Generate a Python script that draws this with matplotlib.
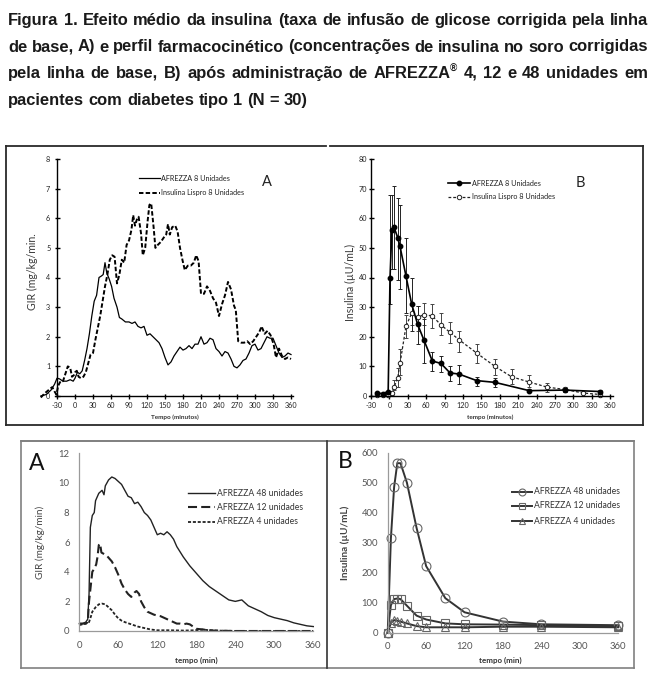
import matplotlib
matplotlib.use('Agg')
import matplotlib.pyplot as plt
from matplotlib.lines import Line2D
from matplotlib.font_manager import FontProperties
import numpy as np

plt.rcParams['lines.scale_dashes'] = False

# ---------------- data ----------------
# Top-left (A): GIR, 8 units
gir8_afz_t = [-57, -48, -40, -34, -30, -26, -20, -14, -8, -3,
              0, 4, 8, 12, 16, 20, 24, 28, 32, 36,
              40, 44, 47, 50, 53, 57, 61, 65, 70, 74,
              78, 84, 90, 95, 100, 105, 110, 115, 120, 125,
              130, 135, 140, 145, 150, 155, 160, 165, 170, 175,
              180, 185, 190, 195, 200, 205, 210, 215, 220, 225,
              230, 235, 240, 245, 250, 255, 260, 265, 270, 275,
              280, 285, 290, 295, 300, 305, 310, 315, 320, 325,
              330, 335, 340, 345, 350, 355, 360]
gir8_afz_v = [0.0, 0.05, 0.2, 0.4, 0.6, 0.58, 0.5, 0.5, 0.55, 0.5,
              0.6, 0.8, 0.75, 0.85, 1.2, 1.6, 2.1, 2.7, 3.2, 3.4,
              4.0, 4.05, 4.1, 4.5, 4.15, 3.95, 3.7, 3.3, 3.0, 2.65,
              2.6, 2.5, 2.5, 2.45, 2.5, 2.35, 2.3, 2.35, 2.05, 2.1,
              2.0, 1.9, 1.8, 1.6, 1.3, 1.05, 1.15, 1.35, 1.5, 1.65,
              1.55, 1.6, 1.7, 1.6, 1.75, 1.75, 2.0, 1.75, 1.8, 1.95,
              1.9, 1.6, 1.5, 1.35, 1.5, 1.45, 1.25, 1.0, 0.95, 1.05,
              1.2, 1.25, 1.45, 1.7, 1.75, 1.55, 1.6, 1.8, 2.0, 1.95,
              1.95, 1.7, 1.45, 1.3, 1.35, 1.45, 1.4]
gir8_lis_t = [-57, -50, -44, -38, -34, -31, -28, -24, -20, -16,
              -12, -8, -5, -2, 0, 3, 6, 10, 14, 18,
              22, 26, 30, 34, 38, 42, 46, 50, 54, 58,
              62, 66, 70, 74, 78, 82, 86, 90, 94, 97,
              100, 103, 106, 110, 113, 117, 121, 124, 127, 131,
              134, 138, 143, 148, 152, 155, 158, 162, 167, 171,
              175, 179, 183, 188, 193, 198, 202, 206, 210, 215,
              220, 225, 230, 235, 240, 245, 250, 255, 260, 265,
              268, 272, 277, 282, 287, 292, 297, 302, 307, 311,
              316, 321, 326, 331, 335, 340, 345, 350, 355, 360]
gir8_lis_v = [-0.05, 0.1, 0.2, 0.3, 0.15, 0.05, 0.35, 0.5, 0.5, 0.75,
              1.0, 0.95, 0.65, 0.7, 0.8, 0.85, 0.65, 0.6, 0.65, 0.8,
              1.1, 1.4, 1.45, 1.9, 2.3, 2.7, 3.2, 3.7, 4.1, 4.6,
              4.75, 4.7, 3.8, 4.1, 4.6, 4.5, 5.1, 5.25, 5.6, 6.1,
              5.75, 5.95, 6.05, 5.5, 4.75, 5.0, 5.9, 6.45, 6.5, 5.7,
              5.0, 5.1, 5.2, 5.35, 5.45, 5.8, 5.45, 5.7, 5.75, 5.55,
              5.0, 4.6, 4.25, 4.4, 4.4, 4.5, 4.75, 4.55, 3.45, 3.45,
              3.7, 3.55, 3.3, 3.15, 2.7, 3.1, 3.4, 3.85, 3.6, 3.05,
              2.9, 1.85, 1.8, 1.8, 1.85, 1.75, 1.85, 2.0, 2.15, 2.35,
              2.1, 2.2, 2.05, 1.75, 1.3, 1.6, 1.35, 1.25, 1.3, 1.25]

# Top-right (B): insulin, 8 units (times)
ins8_afz_t = [-21, -11, -2, 1, 4, 7.5, 13.5, 17.3, 27, 36.3, 46, 56.4, 70, 84,
              98.7, 113.4, 142.2, 172, 228, 286, 344]
ins8_afz_v = [1.0, 0.8, 1.5, 40, 56, 57, 53.5, 50.5, 40.5, 31, 24.2, 18.8, 11.8, 11,
              7.8, 7.4, 5.2, 4.6, 1.8, 2.0, 1.5]
ins8_afz_hi = [1.0, 0.8, 1.5, 68, 68, 71, 67, 64.5, 53.5, 40, 30.5, 26, 15, 13.5,
               10, 10.5, 6.5, 6.0, 2.5, 2.5, 2.0]
ins8_afz_lo = [1.0, 0.8, 1.5, 31, 43, 43, 39, 36, 28, 22, 17.5, 11, 8.5, 8,
               5, 4, 3.5, 3, 1.2, 1.5, 1.0]
ins8_lis_t = [-21, -11, -2, 3.7, 7.5, 13.5, 17.3, 27, 36.3, 46, 56.4, 70, 84, 98.7,
              113.4, 142.2, 172, 199, 228, 257, 286, 316, 344]
ins8_lis_v = [0.3, 0.3, 0.3, 1.0, 3.0, 6.0, 11.0, 23.5, 28, 26.5, 27.5, 27, 24, 21.5,
              19, 14.5, 10, 6.5, 4.7, 3.0, 2.2, 1.0, 0.5]
ins8_lis_hi = [0.3, 0.3, 0.3, 1.5, 5.5, 9.5, 16, 27.5, 31, 30.5, 31.5, 31, 28, 25,
               22, 17.5, 12.5, 9, 7, 4.5, 3, 1.0, 0.5]
ins8_lis_lo = [0.3, 0.3, 0.3, 0.5, 2, 3, 7, 19.5, 24, 22, 24, 23, 20.5, 18,
               15, 11, 7, 4, 3, 1.5, 1.5, 1.0, 0.5]

# Bottom-left (A): GIR, 48 / 12 / 4 units
gir48_t = [0, 5, 10, 13, 15, 17, 20, 23, 25, 30, 35, 38, 40, 45, 50, 55, 60, 65, 70, 75,
           80, 85, 90, 95, 100, 105, 110, 115, 120, 125, 130, 135, 140, 145, 150, 160, 170,
           180, 190, 200, 210, 220, 230, 240, 245, 250, 255, 260, 270, 280, 290, 300, 310,
           320, 330, 340, 350, 360]
gir48_v = [0.5, 0.5, 0.6, 0.8, 2.5, 7.0, 7.8, 8.0, 8.8, 9.3, 9.5, 9.2, 9.8, 10.2, 10.4, 10.3,
           10.1, 9.9, 9.5, 9.1, 9.0, 8.6, 8.7, 8.4, 8.0, 7.8, 7.5, 7.0, 6.5, 6.6, 6.5, 6.7,
           6.5, 6.2, 5.7, 5.0, 4.4, 3.9, 3.4, 3.0, 2.7, 2.4, 2.1, 2.0, 2.05, 2.1, 1.9, 1.7,
           1.5, 1.3, 1.05, 0.9, 0.8, 0.7, 0.55, 0.45, 0.35, 0.3]
gir12_t = [0, 10, 13, 15, 18, 20, 23, 26, 28, 30, 32, 34, 38, 42, 46, 50, 55, 60, 65, 70,
           75, 80, 85, 88, 92, 95, 100, 105, 110, 115, 120, 125, 130, 135, 140, 145, 150,
           155, 160, 165, 170, 175, 180, 190, 200, 210, 240, 270, 300, 360]
gir12_v = [0.5, 0.5, 0.6, 2.0, 3.2, 4.0, 4.2, 4.5, 5.0, 5.8, 5.9, 5.3, 5.2, 5.1, 4.9, 4.7,
           4.3, 3.8, 3.2, 2.8, 2.5, 2.3, 2.6, 2.7, 2.5, 2.0, 1.6, 1.3, 1.2, 1.1, 1.05, 1.0,
           0.9, 0.8, 0.7, 0.6, 0.5, 0.5, 0.45, 0.5, 0.45, 0.3, 0.15, 0.1, 0.05, 0.02, 0.0,
           0.0, 0.0, 0.0]
gir4_t = [0, 10, 15, 18, 20, 25, 30, 35, 40, 45, 50, 55, 60, 65, 70, 80, 90, 100, 110, 120,
          140, 160, 180, 190, 200, 220, 250, 300, 360]
gir4_v = [0.4, 0.5, 0.6, 1.0, 1.3, 1.6, 1.8, 1.85, 1.8, 1.6, 1.4, 1.1, 0.85, 0.7, 0.6, 0.45,
          0.3, 0.2, 0.1, 0.05, 0.05, 0.03, 0.05, 0.1, 0.05, 0.02, 0.0, 0.0, 0.0]

# Bottom-right (B): insulin, 48 / 12 / 4 units
ins_t = [0, 5, 10, 15, 20, 30, 45, 60, 90, 120, 180, 240, 360]
ins48_v = [0, 315, 485, 565, 565, 500, 350, 222, 115, 68, 37, 28, 25]
ins12_v = [0, 92, 112, 114, 112, 90, 57, 44, 31, 28, 27, 25, 21]
ins4_v = [0, 33, 42, 40, 37, 31, 22, 18, 18, 18, 20, 20, 18]

top_xticks = list(range(-30, 361, 30))
bot_xticks = list(range(0, 361, 60))

title_lines = [
    "Figura 1. Efeito médio da insulina (taxa de infusão de glicose corrigida pela linha",
    "de base, A) e perfil farmacocinético (concentrações de insulina no soro corrigidas",
    "pela linha de base, B) após administração de AFREZZA® 4, 12 e 48 unidades em",
    "pacientes com diabetes tipo 1 (N = 30)",
]

# ---------------- figure ----------------
W, H = 655, 689
fig = plt.figure(figsize=(W / 100, H / 100), dpi=100)
renderer = fig.canvas.get_renderer()
CF = 'Lato'


def ax_px(l, t, r, b):
    return fig.add_axes([l / W, 1 - b / H, (r - l) / W, (b - t) / H])


def ftext(x, y, s, **kw):
    return fig.text(x / W, 1 - y / H, s, **kw)


def fline(xs, ys, **kw):
    fig.add_artist(Line2D([x / W for x in xs], [1 - y / H for y in ys],
                          transform=fig.transFigure, **kw))


# ---------- title (justified) ----------
tfam = 'Liberation Sans'


def tfp(size):
    return FontProperties(family=tfam, weight='bold', size=size)


def tw(s, size):
    w, h, d = renderer.get_text_width_height_descent(s, tfp(size), ismath=False)
    return w


def word_w(word, size):
    if '®' in word:
        a, b = word.split('®')
        return tw(a, size) + tw('®', size * 0.6) + (tw(b, size) if b else 0)
    return tw(word, size)


base = 10.0
nat0 = sum(word_w(w, base) for w in title_lines[0].split()) + \
    (len(title_lines[0].split()) - 1) * (tw('a a', base) - tw('aa', base))
tsize = base * 638.0 / nat0
x0, x1 = 8, 648
baselines = [25, 51.5, 78, 105]
spw = tw('a a', tsize) - tw('aa', tsize)
for i, line in enumerate(title_lines):
    words = line.split()
    widths = [word_w(w, tsize) for w in words]
    if i < 3:
        gap = (x1 - x0 - sum(widths)) / (len(words) - 1)
    else:
        gap = spw
    x = x0
    for w, wd in zip(words, widths):
        if '®' in w:
            a, b = w.split('®')
            ftext(x, baselines[i], a, fontproperties=tfp(tsize),
                  va='baseline', ha='left', color='#1a1a1a')
            xa = x + tw(a, tsize)
            ftext(xa, baselines[i] - tsize * 0.55, '®', fontproperties=tfp(tsize * 0.6),
                  va='baseline', ha='left', color='#1a1a1a')
        else:
            ftext(x, baselines[i], w, fontproperties=tfp(tsize),
                  va='baseline', ha='left', color='#1a1a1a')
        x += wd + gap

# ---------- frames ----------
fc_top = '#2a2a2a'
fline([6, 326], [146, 146], color=fc_top, lw=1.3)
fline([330, 643], [146, 146], color=fc_top, lw=1.3)
fline([6, 6], [146, 424.5], color=fc_top, lw=1.3)
fline([643, 643], [146, 424.5], color=fc_top, lw=1.3)
fline([6, 643], [424.5, 424.5], color=fc_top, lw=1.3)
fc_bot = '#808080'
fline([21, 634], [441, 441], color='#6a6a6a', lw=1.2)
fline([21, 634], [668, 668], color=fc_bot, lw=1.2)
fline([21, 21], [441, 668], color=fc_bot, lw=1.2)
fline([634, 634], [441, 668], color=fc_bot, lw=1.2)
fline([327, 327], [441, 668], color='#333333', lw=1.2)


def style_top(ax, ymax, ystep, ypad):
    for s in ['top', 'right']:
        ax.spines[s].set_visible(False)
    ax.spines['left'].set_position(('data', -30))
    ax.spines['bottom'].set_position(('data', 0))
    ax.spines['left'].set_bounds(0, ymax)
    ax.spines['bottom'].set_bounds(-34, 364)
    for s in ['left', 'bottom']:
        ax.spines[s].set_linewidth(1.0)
        ax.spines[s].set_color('black')
    ax.set_xticks(top_xticks)
    ax.set_xticklabels([str(v) for v in top_xticks])
    yt = np.arange(0, ymax + 0.1, ystep)
    ax.set_yticks(yt)
    ax.set_yticklabels([str(int(v)) for v in yt])
    ax.tick_params(axis='both', direction='inout', length=3.6, width=1.0,
                   labelsize=5.2, colors='black', labelcolor='#222222')
    ax.tick_params(axis='x', pad=2.5)
    ax.tick_params(axis='y', pad=ypad)
    for lab in ax.get_xticklabels() + ax.get_yticklabels():
        lab.set_family(CF)
    ax.patch.set_alpha(0)


# ---------- top-left ----------
axA = ax_px(30, 150, 310, 400)
axA.set_xlim(-30 - 27 / 0.6, 360 + 19 / 0.6)
axA.set_ylim(-4 / 29.625, 8 + 9 / 29.625)
axA.plot(gir8_afz_t, gir8_afz_v, color='black', lw=0.9, clip_on=False)
axA.plot(gir8_lis_t, gir8_lis_v, color='black', lw=1.4, dashes=(3.2, 1.6), clip_on=False)
style_top(axA, 8, 1, 3)
ftext(32, 272, 'GIR (mg/kg/min.', rotation=90, ha='center', va='center',
      fontsize=7.6, family=CF, color='#3a3a3a')
ftext(175, 417, 'Tempo (minutos)', ha='center', va='center', fontsize=4.6,
      family=CF, color='#333333', weight='bold')
ftext(267, 182, 'A', ha='center', va='center', fontsize=10.5, family=CF, color='#222222')
fline([139, 160], [178, 178], color='black', lw=0.9)
ftext(161, 178, 'AFREZZA 8 Unidades', ha='left', va='center', fontsize=5.2,
      family=CF, color='#222222')
fline([139, 160], [193, 193], color='black', lw=1.4, dashes=(3.2, 1.6))
ftext(161, 193, 'Insulina Lispro 8 Unidades', ha='left', va='center', fontsize=5.2,
      family=CF, color='#222222')

# ---------- top-right ----------
axB = ax_px(340, 150, 630, 400)
ppm = (610.3 - 371) / 390.0
axB.set_xlim(-30 - 31 / ppm, 360 + 19.7 / ppm)
axB.set_ylim(-4 / 2.9625, 80 + 9 / 2.9625)
a_v = np.array(ins8_afz_v)
l_v = np.array(ins8_lis_v)
axB.errorbar(ins8_lis_t, l_v, yerr=[l_v - np.array(ins8_lis_lo), np.array(ins8_lis_hi) - l_v],
             fmt='none', ecolor='#444444', elinewidth=0.7, capsize=1.6, capthick=0.7,
             clip_on=False)
axB.errorbar(ins8_afz_t, a_v, yerr=[a_v - np.array(ins8_afz_lo), np.array(ins8_afz_hi) - a_v],
             fmt='none', ecolor='#222222', elinewidth=0.7, capsize=1.6, capthick=0.7,
             clip_on=False)
axB.plot(ins8_lis_t, ins8_lis_v, color='#222222', lw=0.9, dashes=(2.0, 1.4),
         marker='o', ms=3.2, mfc='white', mec='#222222', mew=0.7, clip_on=False)
axB.plot(ins8_afz_t, ins8_afz_v, color='black', lw=1.2, marker='o', ms=3.2,
         mfc='black', mec='black', clip_on=False)
style_top(axB, 80, 10, 1.2)
ftext(350, 282, 'Insulina (µU/mL)', rotation=90, ha='center', va='center',
      fontsize=7.6, family=CF, color='#3a3a3a')
ftext(490, 417, 'tempo (minutos)', ha='center', va='center', fontsize=4.6,
      family=CF, color='#333333', weight='bold')
ftext(580, 183, 'B', ha='center', va='center', fontsize=10.5, family=CF, color='#222222')
fline([448, 470], [183, 183], color='black', lw=1.2)
fig.add_artist(Line2D([459 / W], [1 - 183 / H], transform=fig.transFigure, marker='o',
                      ms=3.2, mfc='black', mec='black', lw=0))
ftext(472, 183, 'AFREZZA 8 Unidades', ha='left', va='center', fontsize=5.2,
      family=CF, color='#222222')
fline([448, 470], [197, 197], color='#222222', lw=0.9, dashes=(2.0, 1.4))
fig.add_artist(Line2D([459 / W], [1 - 197 / H], transform=fig.transFigure, marker='o',
                      ms=3.2, mfc='white', mec='#222222', mew=0.7, lw=0))
ftext(472, 197, 'Insulina Lispro 8 Unidades', ha='left', va='center', fontsize=5.2,
      family=CF, color='#222222')


def style_bot(ax, yticks):
    for s in ['top', 'right']:
        ax.spines[s].set_visible(False)
    for s in ['left', 'bottom']:
        ax.spines[s].set_color('#9a9a9a')
        ax.spines[s].set_linewidth(0.9)
    ax.set_xticks(bot_xticks)
    ax.set_xticklabels([str(v) for v in bot_xticks])
    ax.set_yticks(yticks)
    ax.set_yticklabels([str(v) for v in yticks])
    ax.tick_params(axis='both', length=0, labelsize=6.8, labelcolor='#555555')
    ax.tick_params(axis='x', pad=7)
    ax.tick_params(axis='y', pad=7)
    for lab in ax.get_xticklabels() + ax.get_yticklabels():
        lab.set_family(CF)
    ax.patch.set_alpha(0)


# ---------- bottom-left ----------
axC = ax_px(79.3, 453.3, 313.3, 631)
axC.set_xlim(0, 360)
axC.set_ylim(0, 12)
axC.plot(gir48_t, gir48_v, color='#222222', lw=1.0, clip_on=False)
axC.plot(gir12_t, gir12_v, color='#222222', lw=1.5, dashes=(6.5, 3.0), clip_on=False)
axC.plot(gir4_t, gir4_v, color='#222222', lw=1.3, dashes=(2.2, 1.3), clip_on=False)
style_bot(axC, [0, 2, 4, 6, 8, 10, 12])
ftext(40, 542, 'GIR (mg/kg/min)', rotation=90, ha='center', va='center',
      fontsize=7.2, family=CF, color='#444444')
ftext(196, 660, 'tempo (min)', ha='center', va='center', fontsize=5.8,
      family=CF, color='#333333', weight='bold')
ftext(37, 464, 'A', ha='center', va='center', fontsize=16.5, family=CF, color='#111111')
leg_rows = [493, 507, 522]
fline([188, 215], [leg_rows[0]] * 2, color='#222222', lw=1.0)
fline([188, 215], [leg_rows[1]] * 2, color='#222222', lw=1.5, dashes=(6.5, 3.0))
fline([188, 215], [leg_rows[2]] * 2, color='#222222', lw=1.3, dashes=(2.2, 1.3))
for r, lab in zip(leg_rows, ['AFREZZA 48 unidades', 'AFREZZA 12 unidades', 'AFREZZA 4 unidades']):
    ftext(217, r, lab, ha='left', va='center', fontsize=6.2, family=CF, color='#333333')

# ---------- bottom-right ----------
axD = ax_px(387.7, 452.7, 618.3, 632.7)
axD.set_xlim(0, 360)
axD.set_ylim(0, 600)
mk = dict(ms=6.4, mfc='none', mec='#666666', mew=0.8, clip_on=False)
axD.plot(ins_t, ins48_v, color='#333333', lw=1.4, marker='o', **mk)
axD.plot(ins_t, ins12_v, color='#333333', lw=1.4, marker='s', **mk)
axD.plot(ins_t, ins4_v, color='#333333', lw=1.4, marker='^', **mk)
style_bot(axD, [0, 100, 200, 300, 400, 500, 600])
ftext(345, 543, 'Insulina (µU/mL)', rotation=90, ha='center', va='center',
      fontsize=7.2, family=CF, color='#444444', weight='bold')
ftext(500, 660, 'tempo (min)', ha='center', va='center', fontsize=5.8,
      family=CF, color='#333333', weight='bold')
ftext(345, 461, 'B', ha='center', va='center', fontsize=16.5, family=CF, color='#111111')
for r, m, lab in zip([492, 506, 521], ['o', 's', '^'],
                     ['AFREZZA 48 unidades', 'AFREZZA 12 unidades', 'AFREZZA 4 unidades']):
    fline([512, 532], [r, r], color='#333333', lw=1.4)
    fig.add_artist(Line2D([522 / W], [1 - r / H], transform=fig.transFigure, marker=m,
                          ms=5.0, mfc='none', mec='#666666', mew=0.8, lw=0))
    ftext(534, r, lab, ha='left', va='center', fontsize=6.2, family=CF, color='#333333')

fig.savefig('out.png', dpi=100)
